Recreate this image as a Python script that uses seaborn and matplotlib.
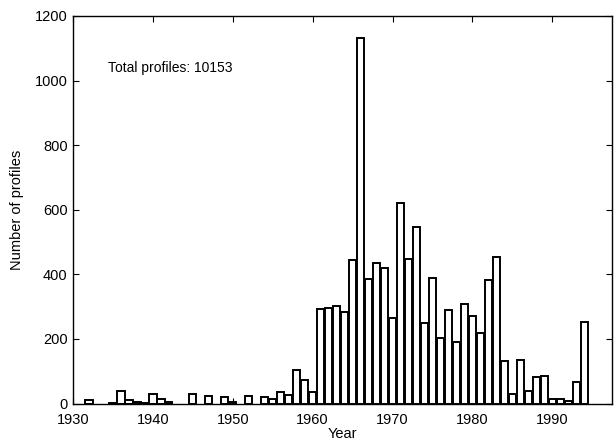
import matplotlib
matplotlib.use("Agg")
import matplotlib.pyplot as plt
import seaborn as sns
import pandas as pd

# profiles per year
years = [1932, 1935, 1936, 1937, 1938, 1939, 1940, 1941, 1942, 1945, 1947, 1949,
         1950, 1952, 1954, 1955, 1956, 1957, 1958, 1959, 1960,
         1961, 1962, 1963, 1964, 1965, 1966, 1967, 1968, 1969, 1970,
         1971, 1972, 1973, 1974, 1975, 1976, 1977, 1978, 1979, 1980,
         1981, 1982, 1983, 1984, 1985, 1986, 1987, 1988, 1989, 1990,
         1991, 1992, 1993, 1994]
counts = [12, 2, 38, 10, 5, 3, 30, 14, 5, 29, 24, 20,
          4, 22, 21, 13, 35, 26, 104, 73, 37,
          292, 295, 302, 284, 444, 1131, 385, 436, 421, 265,
          622, 448, 548, 250, 390, 203, 289, 190, 308, 270,
          220, 384, 453, 131, 29, 134, 38, 81, 85, 14,
          13, 8, 66, 253]

x_ticks = [1930, 1940, 1950, 1960, 1970, 1980, 1990]
y_ticks = [0, 200, 400, 600, 800, 1000, 1200]

df = pd.DataFrame({"year": years, "profiles": counts})

sns.set_style("ticks")
plt.rcParams["font.family"] = ["Liberation Sans", "DejaVu Sans"]
plt.rcParams["text.color"] = "black"
plt.rcParams["axes.labelcolor"] = "black"

fig = plt.figure(figsize=(6.14, 4.44), dpi=100)
ax = fig.add_axes([0.119, 0.091, 0.878, 0.873])

sns.barplot(data=df, x="year", y="profiles", native_scale=True, width=0.9,
            color="white", edgecolor="black", linewidth=1.4, saturation=1,
            errorbar=None, ax=ax)

ax.set_xlim(1930, 1997.5)
ax.set_ylim(0, 1200)
ax.set_xticks(x_ticks)
ax.set_yticks(y_ticks)
ax.tick_params(direction="in", top=True, right=True, length=4, width=0.8,
               labelsize=10.5, colors="black")
ax.tick_params(axis="x", pad=6.5)
ax.tick_params(axis="y", pad=4)
for s in ax.spines.values():
    s.set_visible(True)
    s.set_linewidth(1.0)
    s.set_color("black")

ax.set_xlabel("Year", fontsize=10.5, labelpad=0)
ax.set_ylabel("Number of profiles", fontsize=10.5, labelpad=8)
ax.text(1934.4, 1040, "Total profiles: 10153", fontsize=10, va="center", ha="left",
        color="black")

fig.savefig("out.png", dpi=100)
